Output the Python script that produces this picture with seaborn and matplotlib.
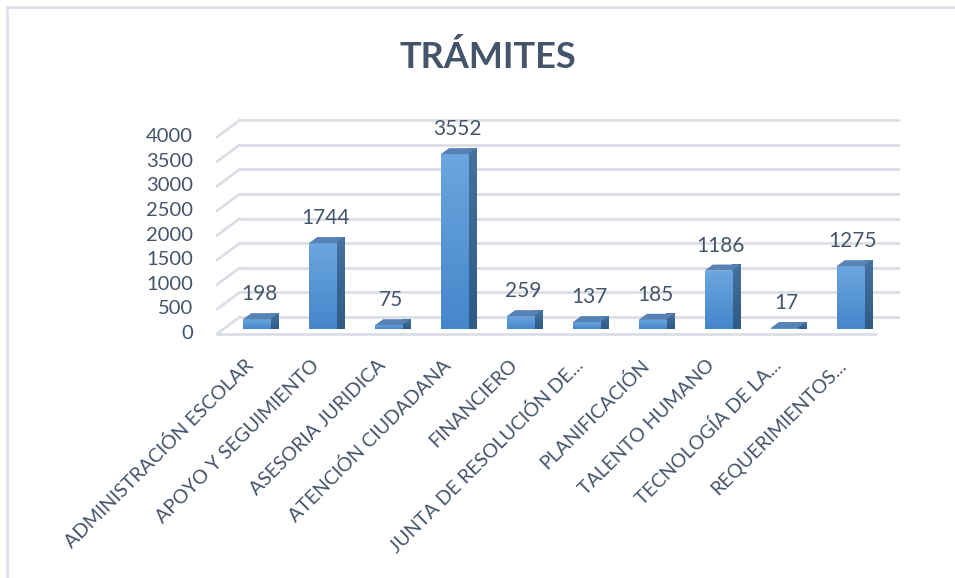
import numpy as np
import pandas as pd
import matplotlib
matplotlib.use("Agg")
import matplotlib.pyplot as plt
from matplotlib.patches import Polygon, Rectangle
from matplotlib.transforms import ScaledTranslation
from matplotlib.colors import LinearSegmentedColormap
import seaborn as sns

# ---- data ----
categories = ["ADMINISTRACIÓN ESCOLAR", "APOYO Y SEGUIMIENTO", "ASESORIA JURIDICA",
              "ATENCIÓN CIUDADANA", "FINANCIERO", "JUNTA DE RESOLUCIÓN DE...",
              "PLANIFICACIÓN", "TALENTO HUMANO", "TECNOLOGÍA DE LA...", "REQUERIMIENTOS..."]
values = [198, 1744, 75, 3552, 259, 137, 185, 1186, 17, 1275]
yticks = [0, 500, 1000, 1500, 2000, 2500, 3000, 3500, 4000]
title = "TRÁMITES"

# ---- style ----
sns.set_style("white")
plt.rcParams['font.family'] = ['Lato', 'DejaVu Sans']
TXT = "#44546a"
GRID = "#d9dee5"

W, H, DPI = 955, 578, 100
fig = plt.figure(figsize=(W / DPI, H / DPI), dpi=DPI)
fig.patch.set_facecolor("white")

# chart frame border
fig.patches.append(Rectangle((7 / W, -0.02), 1.05, (H - 7) / H + 0.02, transform=fig.transFigure,
                             fill=False, edgecolor="#dbe1e9", linewidth=2))

# axes placement (bar plane) in pixels
x_left, x_right = 223.5, 883.0
y_base, y_top = 329.0, 132.2
ax = fig.add_axes([x_left / W, 1 - y_base / H, (x_right - x_left) / W, (y_base - y_top) / H])

df = pd.DataFrame({"cat": categories, "val": values})
sns.barplot(data=df, x="cat", y="val", color="#5b9bd5", saturation=1, width=0.41,
            linewidth=0, ax=ax, zorder=3)

XMIN, XMAX, YMIN, YMAX = -0.5, len(categories) - 0.5, 0, yticks[-1]
ax.set_xlim(XMIN, XMAX)
ax.set_ylim(YMIN, YMAX)
pxx = (x_right - x_left) / (XMAX - XMIN)
pxy = (y_base - y_top) / (YMAX - YMIN)

def off(dx_px, dy_px):
    return dx_px / pxx, dy_px / pxy

bdx, bdy = off(16.2, 12.0)    # back wall offset
fdx, fdy = off(-6.8, -5.0)    # front floor offset
ddx, ddy = off(8.3, 6.1)      # bar depth

# gridlines (back wall + left wall diagonals)
for v in yticks:
    ax.plot([XMIN + bdx, XMAX + bdx], [v + bdy, v + bdy], color=GRID, lw=1.9, zorder=1, clip_on=False)
    ax.plot([XMIN + fdx, XMIN + bdx], [v + fdy, v + bdy], color=GRID, lw=1.9, zorder=1, clip_on=False)
ax.plot([XMIN + fdx, XMAX + fdx], [fdy, fdy], color=GRID, lw=1.9, zorder=1, clip_on=False)

# 3D bar faces
front_cmap = LinearSegmentedColormap.from_list("f", ["#4586ca", "#6ba6df"])
side_cmap = LinearSegmentedColormap.from_list("s", ["#2e5a88", "#46729f"])
grad = np.linspace(0, 1, 256).reshape(-1, 1)
for p, v in zip(ax.patches, values):
    x0 = p.get_x(); w = p.get_width(); h = p.get_height(); x1 = x0 + w
    im = ax.imshow(grad, extent=[x0, x1, 0, h], origin="lower", cmap=front_cmap,
                   aspect="auto", zorder=3.1, clip_on=True)
    im.set_clip_path(p)
    side = Polygon([(x1, 0), (x1 + ddx, ddy), (x1 + ddx, h + ddy), (x1, h)], closed=True,
                   facecolor="#38668f", edgecolor="none", zorder=3, clip_on=False)
    ax.add_patch(side)
    ims = ax.imshow(grad, extent=[x1, x1 + ddx, 0, h + ddy], origin="lower", cmap=side_cmap,
                    aspect="auto", zorder=3.05, clip_on=False)
    ims.set_clip_path(side)
    top = Polygon([(x0, h), (x1, h), (x1 + ddx, h + ddy), (x0 + ddx, h + ddy)], closed=True,
                  facecolor="#5682b5", edgecolor="none", zorder=3.2, clip_on=False)
    ax.add_patch(top)
    ax.annotate(f"{v}", xy=(x0 + w / 2, h), xytext=(2, 18), textcoords="offset points",
                ha="center", va="center", fontsize=15, color=TXT, zorder=5)

ax.set_xlim(XMIN, XMAX)
ax.set_ylim(YMIN, YMAX)

# axes styling
for s in ax.spines.values():
    s.set_visible(False)
ax.set_xlabel("")
ax.set_ylabel("")
ax.set_yticks(yticks)
ax.set_yticklabels([str(t) for t in yticks])
ax.tick_params(axis="both", length=0)
ax.tick_params(axis="y", pad=22, labelsize=14.5, labelcolor=TXT)
ax.tick_params(axis="x", pad=24, labelsize=14, labelcolor=TXT)
ax.set_xticks(range(len(categories)))
ax.set_xticklabels(categories, rotation=45, ha="right", va="center", rotation_mode="anchor")
for lab in ax.get_yticklabels():
    lab.set_transform(lab.get_transform() + ScaledTranslation(0, -3 / DPI, fig.dpi_scale_trans))
for lab in ax.get_xticklabels():
    lab.set_transform(lab.get_transform() + ScaledTranslation(-6 / DPI, 0, fig.dpi_scale_trans))
ax.patch.set_alpha(0)

fig.text(487.5 / W, 1 - 57 / H, title, ha="center", va="center", fontsize=26,
         fontweight="bold", color=TXT)

fig.savefig("out.png", dpi=DPI)
